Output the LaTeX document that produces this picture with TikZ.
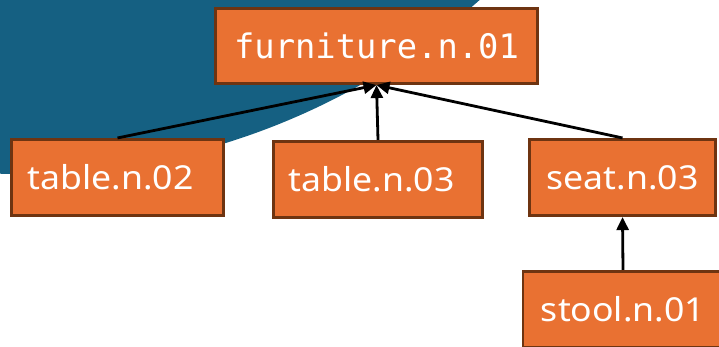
\documentclass[tikz,border=0pt]{standalone}
\usepackage{fontspec}
\setmainfont[FakeStretch=1.08]{Noto Sans}
\newfontfamily\monofnt{DejaVu Sans Mono}
\usetikzlibrary{arrows.meta}
\definecolor{blobblue}{HTML}{156082}
\definecolor{boxorange}{HTML}{E97132}
\definecolor{boxborder}{HTML}{6E3411}
\begin{document}
\begin{tikzpicture}[x=1pt,y=-1pt,
  box/.style={draw=boxborder, fill=boxorange, line width=2.6pt, text=white,
    font=\fontsize{33}{40}\selectfont, inner ysep=0pt, minimum height=76.5pt},
  link/.style={line width=2.8pt, -{Triangle[length=13pt,width=12pt]}}]
\useasboundingbox (0,0) rectangle (719,346);
\begin{scope}
  \clip (0,0) rectangle (719,346);
  \fill[blobblue] (20,-520) circle [radius=694pt];
\end{scope}
\node[box, font=\monofnt\fontsize{33.8}{40}\selectfont, minimum width=322pt, minimum height=75.5pt, inner xsep=0pt]
  (furn) at (376.5,46) {furniture.n.01};
\node[box, align=left, text width=180pt, inner xsep=16pt] (t2) at (117.5,177.5) {table.n.02};
\node[box, align=left, text width=179pt, inner xsep=15pt] (t3) at (378,179.5) {table.n.03};
\node[box, minimum width=186pt, inner xsep=0pt] (seat) at (622.5,177.5) {seat.n.03};
\begin{scope}
  \clip (0,0) rectangle (719,346);
  \node[box, minimum width=200pt, inner xsep=0pt] (stool) at (623,309.5) {stool.n.01};
\end{scope}
\draw[link] (t2.north) -- (furn.south);
\draw[link] (t3.north) -- (furn.south);
\draw[link] (seat.north) -- (furn.south);
\draw[link] (stool.north) -- (seat.south);
\end{tikzpicture}
\end{document}
